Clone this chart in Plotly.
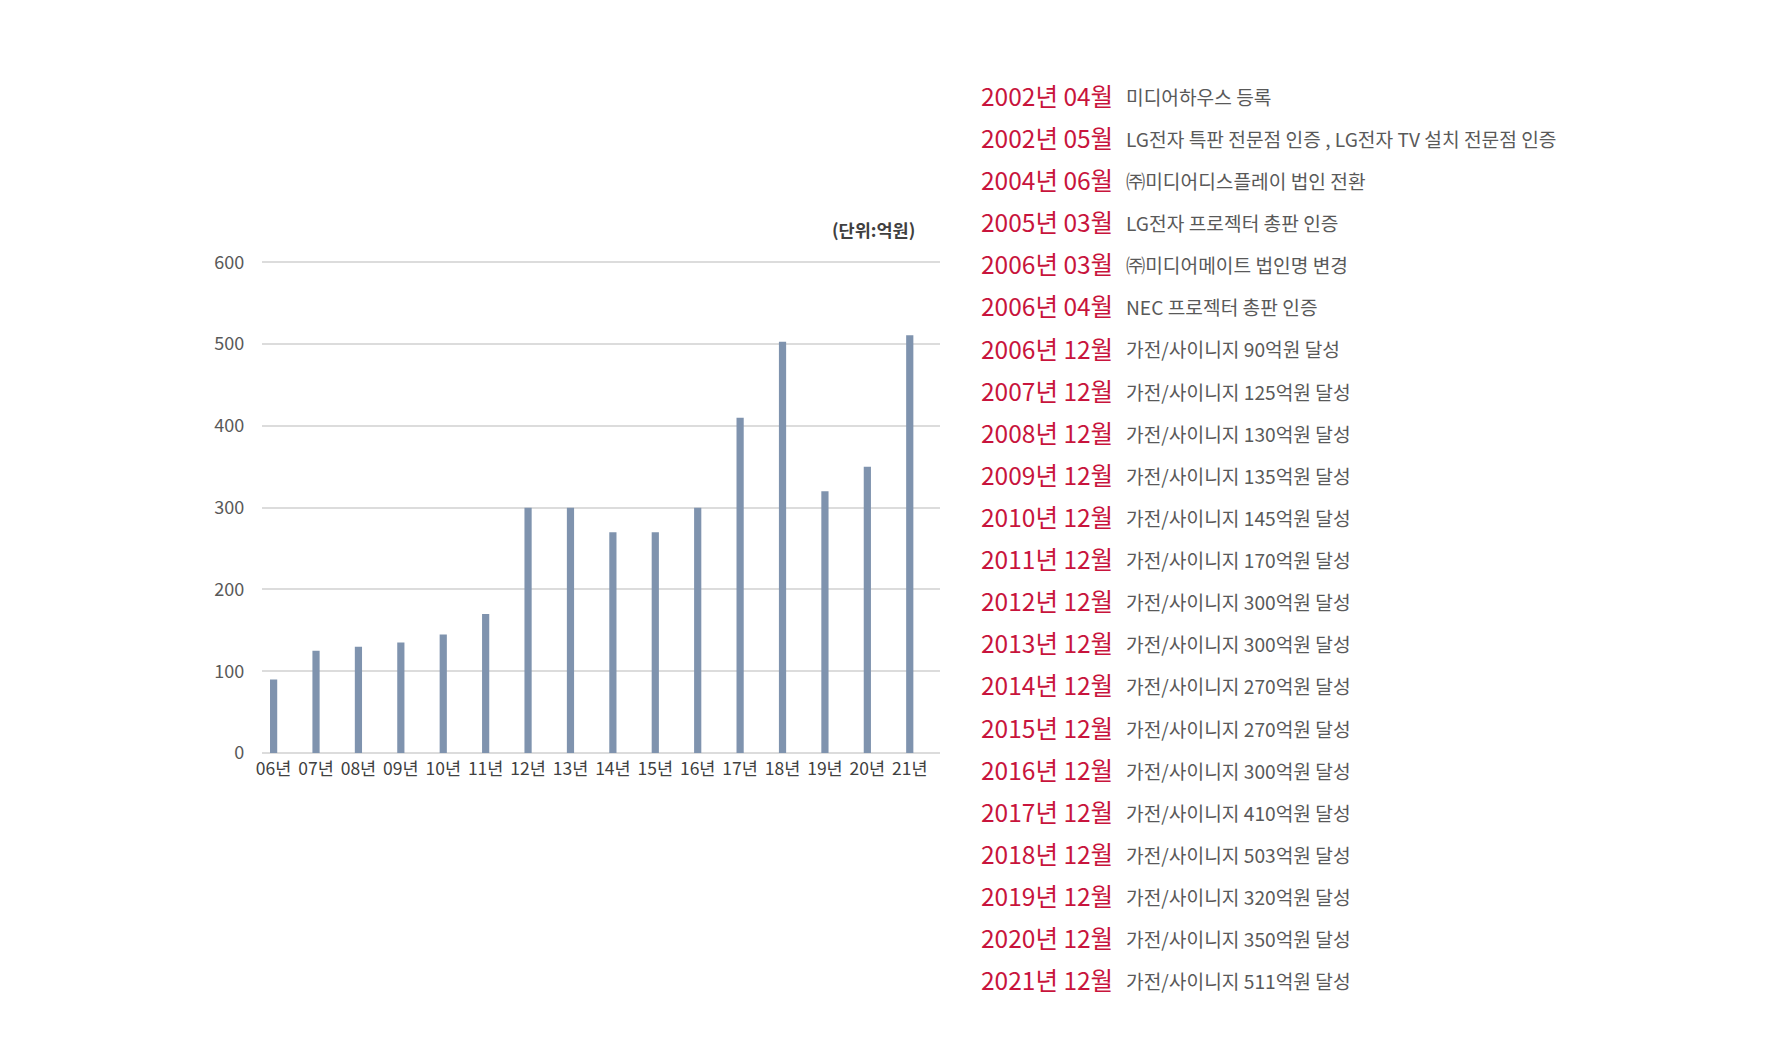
import plotly.graph_objects as go

W, H = 1780, 1057

years = ['06년', '07년', '08년', '09년', '10년', '11년', '12년', '13년',
         '14년', '15년', '16년', '17년', '18년', '19년', '20년', '21년']
sales = [90, 125, 130, 135, 145, 170, 300, 300, 270, 270, 300, 410, 503, 320, 350, 511]
y_ticks = [0, 100, 200, 300, 400, 500, 600]

milestone_dates = [
    '2002년 04월', '2002년 05월', '2004년 06월', '2005년 03월', '2006년 03월',
    '2006년 04월', '2006년 12월', '2007년 12월', '2008년 12월', '2009년 12월',
    '2010년 12월', '2011년 12월', '2012년 12월', '2013년 12월', '2014년 12월',
    '2015년 12월', '2016년 12월', '2017년 12월', '2018년 12월', '2019년 12월',
    '2020년 12월', '2021년 12월',
]
milestone_texts = [
    '미디어하우스 등록',
    'LG전자 특판 전문점 인증 , LG전자 TV 설치 전문점 인증',
    '㈜미디어디스플레이 법인 전환',
    'LG전자 프로젝터 총판 인증',
    '㈜미디어메이트 법인명 변경',
    'NEC 프로젝터 총판 인증',
    '가전/사이니지 90억원 달성',
    '가전/사이니지 125억원 달성',
    '가전/사이니지 130억원 달성',
    '가전/사이니지 135억원 달성',
    '가전/사이니지 145억원 달성',
    '가전/사이니지 170억원 달성',
    '가전/사이니지 300억원 달성',
    '가전/사이니지 300억원 달성',
    '가전/사이니지 270억원 달성',
    '가전/사이니지 270억원 달성',
    '가전/사이니지 300억원 달성',
    '가전/사이니지 410억원 달성',
    '가전/사이니지 503억원 달성',
    '가전/사이니지 320억원 달성',
    '가전/사이니지 350억원 달성',
    '가전/사이니지 511억원 달성',
]

FONT = 'Noto Sans CJK KR'
GRAY = '#595959'
RED = '#c8143c'

fig = go.Figure(go.Bar(
    x=list(range(len(years))), y=sales,
    width=0.17, marker=dict(color='#7f93ae', line=dict(width=0)),
    hoverinfo='skip',
))

# plot area in pixels: x 249..929, y ~245..749
fig.update_layout(
    width=W, height=H,
    margin=dict(l=0, r=0, t=0, b=0),
    paper_bgcolor='white', plot_bgcolor='white',
    showlegend=False,
    font=dict(family=FONT, color=GRAY),
    xaxis=dict(
        domain=[249 / W, 929 / W],
        range=[-0.27, 15.71],
        tickmode='array', tickvals=list(range(len(years))), ticktext=years,
        tickfont=dict(size=17.5, color='#404040'),
        showgrid=False, zeroline=False, showline=False, ticks='',
        ticklabelstandoff=4,
    ),
    yaxis=dict(
        domain=[1 - 749 / H, 1 - 245.3 / H],
        range=[0, 602],
        tickvals=y_ticks,
        tickfont=dict(size=18, color=GRAY),
        gridcolor='#dcdcdc', gridwidth=1.5,
        zeroline=True, zerolinecolor='#dcdcdc', zerolinewidth=1.5,
        showline=False, ticks='', ticklabelstandoff=17,
    ),
)

fig.add_annotation(
    x=906 / W, y=1 - 213 / H, xref='paper', yref='paper',
    text='<b>(단위:억원)</b>', showarrow=False, xanchor='right', yanchor='middle',
    font=dict(size=17.5, color='#404040', family=FONT),
)

y0, step = 76, 43.1
for i, (d, t) in enumerate(zip(milestone_dates, milestone_texts)):
    yy = 1 - (y0 + i * step) / H
    fig.add_annotation(
        x=968 / W, y=yy, xref='paper', yref='paper', text=d, showarrow=False,
        xanchor='left', yanchor='middle',
        font=dict(size=24.5, color=RED, family=FONT),
    )
    fig.add_annotation(
        x=1114 / W, y=yy - 1.5 / H, xref='paper', yref='paper', text=t, showarrow=False,
        xanchor='left', yanchor='middle',
        font=dict(size=19.2, color=GRAY, family=FONT),
    )

fig.write_html('out.html')
